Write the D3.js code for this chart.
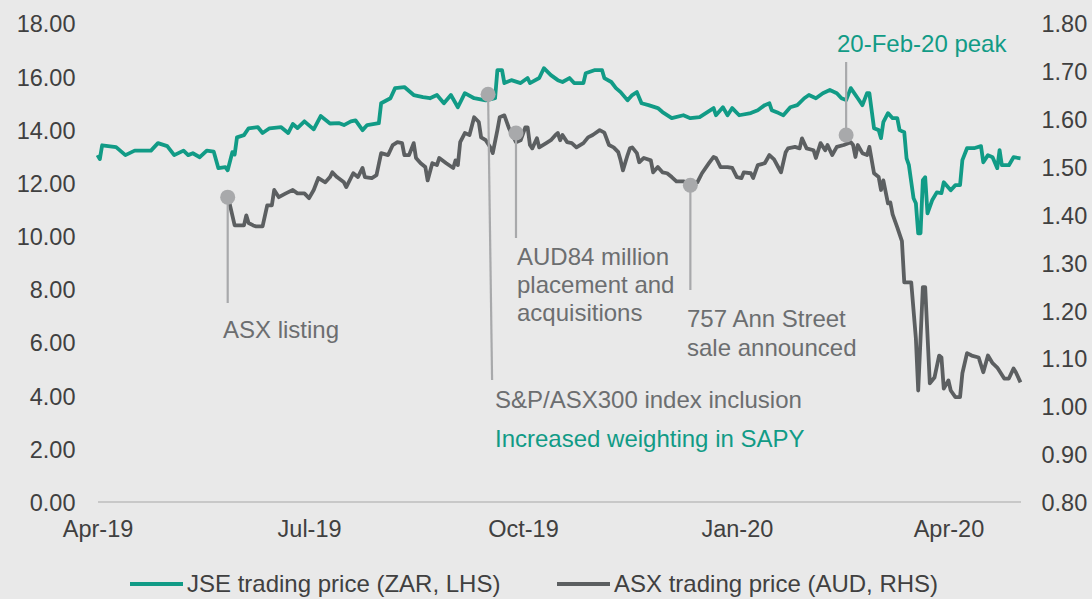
<!DOCTYPE html>
<html>
<head>
<meta charset="utf-8">
<script src="https://cdn.jsdelivr.net/npm/d3@7"></script>
<style>
  body { margin: 0; background: #e9e9e9; }
  svg { display: block; font-family: 'Liberation Sans', Arial, sans-serif; }
  .tick text { fill: #404040; font-size: 23.5px; }
  .note { font-size: 24px; }
  .legend text { fill: #404040; font-size: 24px; }
</style>
</head>
<body>
<svg width="1092" height="599"></svg>
<script>
//JSE price in ZAR (left axis)
const jsePrices = [
  ['2019-04-01',13.03],['2019-04-02',12.88],['2019-04-03',13.40],['2019-04-09',13.33],['2019-04-13',13.03],
  ['2019-04-17',13.20],['2019-04-24',13.20],['2019-04-27',13.48],['2019-05-01',13.37],['2019-05-04',13.03],
  ['2019-05-08',13.20],['2019-05-10',13.03],['2019-05-12',13.10],['2019-05-15',12.95],['2019-05-18',13.20],
  ['2019-05-21',13.16],['2019-05-23',12.54],['2019-05-26',12.58],['2019-05-27',12.46],['2019-05-29',13.14],
  ['2019-05-30',13.05],['2019-05-31',13.70],['2019-06-03',13.78],['2019-06-05',14.04],['2019-06-09',14.08],
  ['2019-06-11',13.86],['2019-06-14',14.04],['2019-06-19',14.08],['2019-06-22',13.86],['2019-06-24',14.20],
  ['2019-06-26',14.05],['2019-06-29',14.30],['2019-07-03',14.00],['2019-07-06',14.50],['2019-07-10',14.22],
  ['2019-07-14',14.23],['2019-07-16',14.16],['2019-07-19',14.30],['2019-07-21',14.34],['2019-07-24',13.97],
  ['2019-07-26',14.16],['2019-07-31',14.23],['2019-08-01',14.98],['2019-08-05',15.17],['2019-08-07',15.55],
  ['2019-08-11',15.59],['2019-08-15',15.29],['2019-08-19',15.21],['2019-08-22',15.17],['2019-08-25',15.29],
  ['2019-08-28',14.98],['2019-08-31',15.29],['2019-09-03',14.83],['2019-09-06',15.36],['2019-09-10',15.17],
  ['2019-09-15',15.09],['2019-09-19',15.17],['2019-09-20',16.23],['2019-09-22',16.23],['2019-09-23',15.74],
  ['2019-09-26',15.85],['2019-09-30',15.74],['2019-10-03',15.93],['2019-10-04',15.74],['2019-10-08',15.93],
  ['2019-10-10',16.30],['2019-10-13',16.04],['2019-10-16',15.85],['2019-10-18',15.78],['2019-10-21',15.93],
  ['2019-10-23',15.74],['2019-10-27',15.74],['2019-10-28',16.11],['2019-11-01',16.23],['2019-11-04',16.23],
  ['2019-11-05',15.93],['2019-11-08',15.78],['2019-11-10',15.55],['2019-11-12',15.40],['2019-11-15',15.09],
  ['2019-11-17',15.29],['2019-11-19',15.40],['2019-11-21',14.98],['2019-11-24',14.91],['2019-11-28',14.80],
  ['2019-11-30',14.65],['2019-12-04',14.42],['2019-12-09',14.53],['2019-12-12',14.42],['2019-12-16',14.46],
  ['2019-12-22',14.80],['2019-12-23',14.53],['2019-12-26',14.83],['2019-12-28',14.53],['2019-12-30',14.80],
  ['2020-01-02',14.53],['2020-01-07',14.61],['2020-01-10',14.72],['2020-01-13',14.91],['2020-01-15',14.98],
  ['2020-01-16',14.72],['2020-01-19',14.61],['2020-01-21',14.53],['2020-01-24',14.83],['2020-01-27',14.91],
  ['2020-01-30',15.17],['2020-02-01',15.29],['2020-02-04',15.17],['2020-02-07',15.36],['2020-02-10',15.48],
  ['2020-02-13',15.36],['2020-02-15',15.17],['2020-02-17',15.10],['2020-02-19',15.55],['2020-02-22',15.17],
  ['2020-02-24',14.91],['2020-02-26',15.36],['2020-02-27',15.36],['2020-02-29',14.04],['2020-03-02',13.97],
  ['2020-03-03',13.67],['2020-03-04',14.27],['2020-03-06',14.61],['2020-03-08',14.42],['2020-03-10',14.42],
  ['2020-03-11',13.97],['2020-03-13',13.89],['2020-03-14',12.91],['2020-03-15',12.65],['2020-03-17',11.41],
  ['2020-03-18',11.22],['2020-03-19',10.09],['2020-03-20',10.09],['2020-03-21',12.09],['2020-03-22',12.20],
  ['2020-03-23',10.84],['2020-03-25',11.33],['2020-03-27',11.63],['2020-03-29',11.60],['2020-03-30',12.01],
  ['2020-04-02',11.71],['2020-04-04',11.90],['2020-04-06',11.90],['2020-04-07',12.84],['2020-04-09',13.29],
  ['2020-04-12',13.29],['2020-04-15',13.37],['2020-04-16',12.76],['2020-04-18',13.03],['2020-04-20',12.95],
  ['2020-04-22',12.54],['2020-04-23',13.22],['2020-04-24',12.65],['2020-04-27',12.65],['2020-04-29',12.95],
  ['2020-05-02',12.91]
];

//ASX price in AUD (right axis)
const asxPrices = [
  ['2019-05-27',1.436],['2019-05-28',1.419],['2019-05-30',1.377],['2019-06-03',1.377],['2019-06-04',1.398],
  ['2019-06-05',1.382],['2019-06-07',1.377],['2019-06-08',1.375],['2019-06-11',1.375],['2019-06-13',1.419],
  ['2019-06-15',1.419],['2019-06-16',1.451],['2019-06-18',1.436],['2019-06-21',1.444],['2019-06-24',1.451],
  ['2019-06-26',1.444],['2019-06-29',1.444],['2019-07-01',1.434],['2019-07-03',1.451],['2019-07-05',1.476],
  ['2019-07-08',1.467],['2019-07-10',1.478],['2019-07-11',1.488],['2019-07-13',1.478],['2019-07-16',1.467],
  ['2019-07-17',1.457],['2019-07-20',1.486],['2019-07-22',1.478],['2019-07-24',1.497],['2019-07-25',1.478],
  ['2019-07-28',1.476],['2019-07-30',1.482],['2019-08-01',1.528],['2019-08-04',1.524],['2019-08-06',1.545],
  ['2019-08-08',1.551],['2019-08-10',1.549],['2019-08-11',1.524],['2019-08-13',1.524],['2019-08-15',1.549],
  ['2019-08-16',1.518],['2019-08-18',1.507],['2019-08-20',1.499],['2019-08-21',1.471],['2019-08-23',1.507],
  ['2019-08-25',1.503],['2019-08-26',1.518],['2019-08-29',1.507],['2019-09-01',1.497],['2019-09-02',1.513],
  ['2019-09-03',1.503],['2019-09-04',1.551],['2019-09-06',1.570],['2019-09-08',1.566],['2019-09-10',1.603],
  ['2019-09-12',1.593],['2019-09-13',1.561],['2019-09-15',1.555],['2019-09-17',1.540],['2019-09-18',1.528],
  ['2019-09-20',1.576],['2019-09-21',1.603],['2019-09-23',1.607],['2019-09-25',1.580],['2019-09-27',1.561],
  ['2019-09-28',1.551],['2019-09-30',1.555],['2019-10-02',1.582],['2019-10-03',1.582],['2019-10-04',1.545],
  ['2019-10-05',1.538],['2019-10-07',1.559],['2019-10-08',1.540],['2019-10-11',1.549],['2019-10-13',1.555],
  ['2019-10-15',1.566],['2019-10-16',1.570],['2019-10-17',1.555],['2019-10-18',1.566],['2019-10-20',1.551],
  ['2019-10-22',1.549],['2019-10-24',1.540],['2019-10-27',1.549],['2019-10-29',1.561],['2019-10-31',1.566],
  ['2019-11-03',1.576],['2019-11-05',1.571],['2019-11-07',1.545],['2019-11-09',1.540],['2019-11-11',1.530],
  ['2019-11-12',1.513],['2019-11-13',1.492],['2019-11-15',1.524],['2019-11-16',1.538],['2019-11-17',1.540],
  ['2019-11-19',1.528],['2019-11-20',1.509],['2019-11-22',1.518],['2019-11-25',1.513],['2019-11-26',1.488],
  ['2019-11-28',1.499],['2019-11-30',1.488],['2019-12-02',1.486],['2019-12-04',1.478],['2019-12-06',1.469],
  ['2019-12-09',1.469],['2019-12-12',1.465],['2019-12-15',1.467],['2019-12-17',1.486],['2019-12-20',1.507],
  ['2019-12-22',1.520],['2019-12-23',1.518],['2019-12-25',1.499],['2019-12-28',1.499],['2019-12-30',1.497],
  ['2020-01-01',1.478],['2020-01-03',1.476],['2020-01-04',1.488],['2020-01-07',1.486],['2020-01-08',1.476],
  ['2020-01-10',1.503],['2020-01-13',1.507],['2020-01-15',1.524],['2020-01-17',1.515],['2020-01-19',1.497],
  ['2020-01-20',1.488],['2020-01-22',1.530],['2020-01-23',1.538],['2020-01-26',1.541],['2020-01-28',1.538],
  ['2020-01-29',1.559],['2020-01-31',1.538],['2020-02-03',1.534],['2020-02-04',1.518],['2020-02-06',1.549],
  ['2020-02-08',1.534],['2020-02-09',1.545],['2020-02-11',1.524],['2020-02-13',1.541],['2020-02-16',1.545],
  ['2020-02-19',1.551],['2020-02-20',1.545],['2020-02-21',1.520],['2020-02-22',1.545],['2020-02-24',1.528],
  ['2020-02-26',1.524],['2020-02-27',1.541],['2020-02-29',1.486],['2020-03-02',1.478],['2020-03-03',1.451],
  ['2020-03-04',1.471],['2020-03-06',1.423],['2020-03-07',1.425],['2020-03-08',1.400],['2020-03-10',1.373],
  ['2020-03-12',1.344],['2020-03-13',1.258],['2020-03-16',1.258],['2020-03-18',1.141],['2020-03-19',1.032],
  ['2020-03-21',1.248],['2020-03-22',1.248],['2020-03-24',1.047],['2020-03-26',1.059],['2020-03-28',1.105],
  ['2020-03-29',1.101],['2020-03-30',1.036],['2020-04-01',1.053],['2020-04-02',1.032],['2020-04-04',1.018],
  ['2020-04-06',1.018],['2020-04-07',1.068],['2020-04-09',1.110],['2020-04-11',1.105],['2020-04-14',1.101],
  ['2020-04-16',1.070],['2020-04-18',1.105],['2020-04-20',1.089],['2020-04-22',1.080],['2020-04-25',1.057],
  ['2020-04-27',1.057],['2020-04-29',1.078],['2020-04-30',1.070],['2020-05-02',1.049]
];

//ticks
const leftTicks = [0, 2, 4, 6, 8, 10, 12, 14, 16, 18];
const rightTicks = [0.8, 0.9, 1.0, 1.1, 1.2, 1.3, 1.4, 1.5, 1.6, 1.7, 1.8];
const monthTicks = ['2019-04-01', '2019-07-01', '2019-10-01', '2020-01-01', '2020-04-01'];
const dateRange = ['2019-04-01', '2020-05-02'];

//events marked on the chart
const events = [
  {date: '2019-05-27', series: 'asx', value: 1.436, lines: ['ASX listing']},
  {date: '2019-09-16', series: 'jse', value: 15.32, lines: ['S&P/ASX300 index inclusion', 'Increased weighting in SAPY']},
  {date: '2019-09-28', series: 'asx', value: 1.570, lines: ['AUD84 million', 'placement and', 'acquisitions']},
  {date: '2019-12-12', series: 'asx', value: 1.461, lines: ['757 Ann Street', 'sale announced']},
  {date: '2020-02-17', series: 'asx', value: 1.566, lines: ['20-Feb-20 peak']}
];

const legendLabels = ['JSE trading price (ZAR, LHS)', 'ASX trading price (AUD, RHS)'];

const render = () => {

  const svg = d3.select('svg');
  const width = +svg.attr('width');
  const height = +svg.attr('height');

  const teal = '#119b86';
  const grey = '#5c5f61';
  const noteGrey = '#6c6e70';
  const dotGrey = '#a8a9ab';

  //background
  svg.append('rect')
    .attr('width', width)
    .attr('height', height)
    .attr('fill', '#e9e9e9');

  const parse = d3.timeParse('%Y-%m-%d');

  //scales
  const xScale = d3.scaleTime()
    .domain(dateRange.map(parse))
    .range([97.5, 1020.5]);

  const yLeft = d3.scaleLinear()
    .domain([0, 18])
    .range([501.5, 23]);

  const yRight = d3.scaleLinear()
    .domain([0.8, 1.8])
    .range([501.5, 23]);

  //axes
  const xAxis = svg.append('g')
    .attr('transform', `translate(0, ${yLeft(0)})`)
    .call(d3.axisBottom(xScale)
      .tickValues(monthTicks.map(parse))
      .tickFormat(d3.timeFormat('%b-%y'))
      .tickSize(0)
      .tickPadding(19));
  xAxis.select('.domain')
    .attr('stroke', '#bdbdbd')
    .attr('stroke-width', 1.5);

  const leftAxis = svg.append('g')
    .attr('transform', `translate(${xScale.range()[0]}, 0)`)
    .call(d3.axisLeft(yLeft)
      .tickValues(leftTicks)
      .tickFormat(d3.format('.2f'))
      .tickSize(0)
      .tickPadding(22));
  leftAxis.select('.domain').remove();
  leftAxis.selectAll('text').attr('dy', '0.38em');

  const rightAxis = svg.append('g')
    .attr('transform', `translate(${xScale.range()[1]}, 0)`)
    .call(d3.axisRight(yRight)
      .tickValues(rightTicks)
      .tickFormat(d3.format('.2f'))
      .tickSize(0)
      .tickPadding(21));
  rightAxis.select('.domain').remove();
  rightAxis.selectAll('text').attr('dy', '0.38em');

  svg.selectAll('.tick text').attr('font-family', null).attr('font-size', null);

  //lines
  const jseLine = d3.line()
    .x(d => xScale(parse(d[0])))
    .y(d => yLeft(d[1]));

  const asxLine = d3.line()
    .x(d => xScale(parse(d[0])))
    .y(d => yRight(d[1]));

  svg.append('path')
    .datum(jsePrices)
    .attr('d', jseLine)
    .attr('fill', 'none')
    .attr('stroke', teal)
    .attr('stroke-width', 3.8)
    .attr('stroke-linejoin', 'round');

  svg.append('path')
    .datum(asxPrices)
    .attr('d', asxLine)
    .attr('fill', 'none')
    .attr('stroke', grey)
    .attr('stroke-width', 3.8)
    .attr('stroke-linejoin', 'round');

  //annotation layout: stem end, text position, line gap, colours
  const noteLayout = [
    {stemTo: 303, tilt: 0, tx: 223, ty: 338, gap: 28, colours: [noteGrey]},
    {stemTo: 380, tilt: 4, tx: 495, ty: 408, gap: 39, colours: [noteGrey, teal]},
    {stemTo: 238, tilt: 0, tx: 517, ty: 265, gap: 28, colours: [noteGrey, noteGrey, noteGrey]},
    {stemTo: 290, tilt: 0, tx: 687, ty: 327, gap: 29, colours: [noteGrey, noteGrey]},
    {stemTo: 62, tilt: 0, tx: 837, ty: 52, gap: 28, colours: [teal]}
  ];

  const notes = svg.append('g');
  events.forEach((e, i) => {
    const lay = noteLayout[i];
    const cx = xScale(parse(e.date));
    const cy = e.series === 'jse' ? yLeft(e.value) : yRight(e.value);

    notes.append('line')
      .attr('x1', cx)
      .attr('y1', cy)
      .attr('x2', cx + lay.tilt)
      .attr('y2', lay.stemTo)
      .attr('stroke', dotGrey)
      .attr('stroke-width', 2.2);

    notes.append('circle')
      .attr('cx', cx)
      .attr('cy', cy)
      .attr('r', 7.5)
      .attr('fill', dotGrey);

    e.lines.forEach((t, j) => {
      notes.append('text')
        .attr('class', 'note')
        .attr('x', lay.tx)
        .attr('y', lay.ty + j * lay.gap)
        .attr('fill', lay.colours[j])
        .text(t);
    });
  });

  //legend
  const legend = svg.append('g').attr('class', 'legend');
  const legendX = [130, 557];
  [teal, grey].forEach((c, i) => {
    legend.append('line')
      .attr('x1', legendX[i])
      .attr('x2', legendX[i] + 53)
      .attr('y1', 584)
      .attr('y2', 584)
      .attr('stroke', c)
      .attr('stroke-width', 4);
    legend.append('text')
      .attr('x', legendX[i] + 57)
      .attr('y', 592)
      .text(legendLabels[i]);
  });
};

render();
</script>
</body>
</html>
